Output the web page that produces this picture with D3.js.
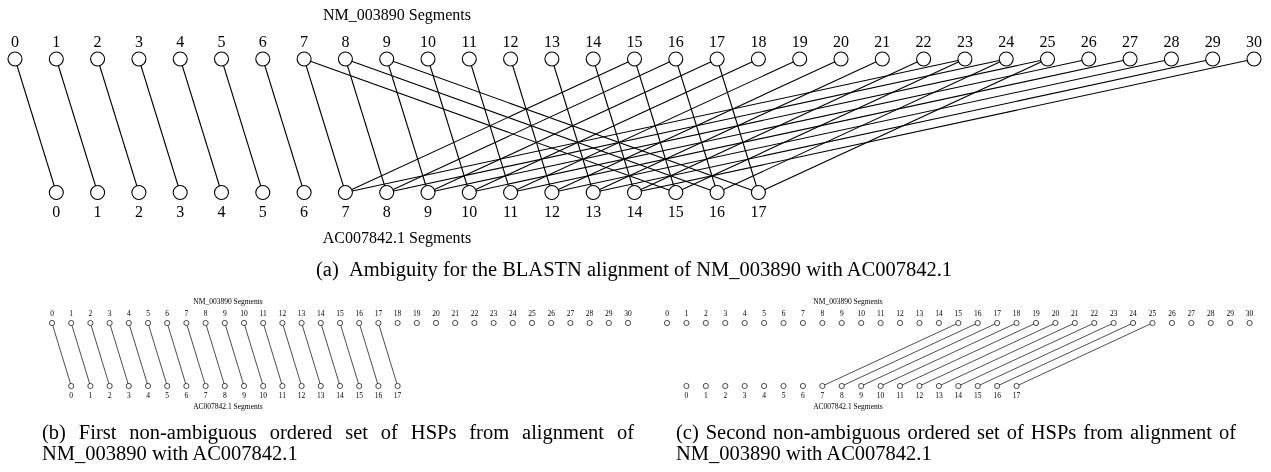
<!DOCTYPE html>
<html><head><meta charset="utf-8">
<script src="https://cdn.jsdelivr.net/npm/d3@7"></script>
<style>
body{margin:0;background:#fff}
svg{will-change:transform}
text{font-family:"Liberation Serif","Times New Roman",serif;fill:#000}
</style>
</head><body>
<svg id="chart" width="1271" height="472"></svg>
<script>
// ---- data ----
const topSegments = [0,1,2,3,4,5,6,7,8,9,10,11,12,13,14,15,16,17,18,19,20,21,22,23,24,25,26,27,28,29,30];
const bottomSegments = [0,1,2,3,4,5,6,7,8,9,10,11,12,13,14,15,16,17];
const topTitle = "NM_003890 Segments";
const bottomTitle = "AC007842.1 Segments";
// HSP links: [NM_003890 segment, AC007842.1 segment]
const edgesA = [
  [0,0],[1,1],[2,2],[3,3],[4,4],[5,5],[6,6],[7,7],[8,8],[9,9],[10,10],[11,11],[12,12],[13,13],[14,14],[15,15],[16,16],[17,17],
  [15,7],[16,8],[17,9],[18,10],[19,11],[20,12],[21,13],[22,14],[23,15],[24,16],[25,17],
  [23,7],[24,8],[25,9],[26,10],[27,11],[28,12],[29,13],[30,14],
  [7,15],[8,16],[9,17]
];
const edgesB = [[0,0],[1,1],[2,2],[3,3],[4,4],[5,5],[6,6],[7,7],[8,8],[9,9],[10,10],[11,11],[12,12],[13,13],[14,14],[15,15],[16,16],[17,17]];
const edgesC = [[15,7],[16,8],[17,9],[18,10],[19,11],[20,12],[21,13],[22,14],[23,15],[24,16],[25,17]];
const captionA = "(a)\u2002Ambiguity for the BLASTN alignment of NM_003890 with AC007842.1";
const captionB = ["(b)","First","non-ambiguous","ordered","set","of","HSPs","from","alignment","of"];
const captionB2 = "NM_003890 with AC007842.1";
const captionC = ["(c)","Second","non-ambiguous","ordered","set","of","HSPs","from","alignment","of"];
const captionC2 = "NM_003890 with AC007842.1";

const svg = d3.select("#chart");

function panel(cfg, edges){
  const g = svg.append("g");
  const xt = d3.scaleLinear().domain([0, 30]).range([cfg.x0, cfg.x0 + 30*cfg.step]);
  const xb = d3.scaleLinear().domain([0, 17]).range([cfg.x0 + cfg.step, cfg.x0 + 18*cfg.step]);
  const y = d3.scaleOrdinal().domain(["top","bottom"]).range([cfg.yTop, cfg.yBot]);

  g.selectAll("line").data(edges).join("line")
    .attr("x1", d => xt(d[0])).attr("y1", y("top"))
    .attr("x2", d => xb(d[1])).attr("y2", y("bottom"))
    .attr("stroke", "#000").attr("stroke-width", cfg.sw);

  g.selectAll("circle.t").data(topSegments).join("circle").attr("class","t")
    .attr("cx", d => xt(d)).attr("cy", y("top")).attr("r", cfg.r)
    .attr("fill", "#fff").attr("stroke", "#000").attr("stroke-width", cfg.sw);
  g.selectAll("circle.b").data(bottomSegments).join("circle").attr("class","b")
    .attr("cx", d => xb(d)).attr("cy", y("bottom")).attr("r", cfg.r)
    .attr("fill", "#fff").attr("stroke", "#000").attr("stroke-width", cfg.sw);

  g.selectAll("text.tl").data(topSegments).join("text").attr("class","tl")
    .attr("x", d => xt(d)).attr("y", cfg.yTopLab).attr("text-anchor","middle")
    .attr("font-size", cfg.fs).text(d => d);
  g.selectAll("text.bl").data(bottomSegments).join("text").attr("class","bl")
    .attr("x", d => xb(d)).attr("y", cfg.yBotLab).attr("text-anchor","middle")
    .attr("font-size", cfg.fs).text(d => d);

  g.append("text").attr("x", cfg.titleX).attr("y", cfg.yTitleTop).attr("text-anchor","middle")
    .attr("font-size", cfg.fs).text(topTitle);
  g.append("text").attr("x", cfg.titleX).attr("y", cfg.yTitleBot).attr("text-anchor","middle")
    .attr("font-size", cfg.fs).text(bottomTitle);
}

panel({x0:15, step:41.3, yTop:59, yBot:192.5, r:7, sw:1.1, fs:16,
       yTopLab:47, yBotLab:216.5, yTitleTop:20, yTitleBot:243, titleX:397}, edgesA);
panel({x0:52, step:19.2, yTop:323, yBot:386, r:2.6, sw:0.7, fs:7.5,
       yTopLab:316, yBotLab:397.5, yTitleTop:303.5, yTitleBot:408.5, titleX:228}, edgesB);
panel({x0:667, step:19.42, yTop:323, yBot:386, r:2.6, sw:0.7, fs:7.5,
       yTopLab:316, yBotLab:397.5, yTitleTop:303.5, yTitleBot:408.5, titleX:848}, edgesC);

// captions
const capFs = 20.5;
svg.append("text").attr("x", 634).attr("y", 276).attr("text-anchor","middle")
  .attr("font-size", capFs).text(captionA);

function justified(words, x0, x1, yb){
  const g = svg.append("g");
  const t = g.selectAll("text").data(words).join("text")
    .attr("y", yb).attr("font-size", capFs).text(d => d);
  const w = t.nodes().map(n => n.getComputedTextLength());
  const total = d3.sum(w);
  const gap = (x1 - x0 - total) / (words.length - 1);
  let cx = x0;
  t.attr("x", (d, i) => { const v = cx; cx += w[i] + gap; return v; });
}
justified(captionB, 42, 634, 439);
svg.append("text").attr("x", 42).attr("y", 460).attr("font-size", capFs).text(captionB2);
justified(captionC, 676, 1236, 439);
svg.append("text").attr("x", 676).attr("y", 460).attr("font-size", capFs).text(captionC2);
</script>
</body></html>
